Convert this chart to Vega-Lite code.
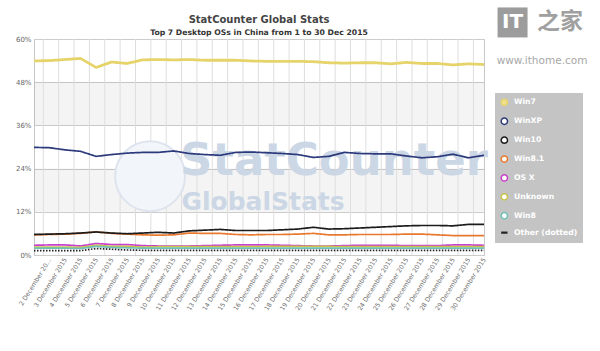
{
  "$schema": "https://vega.github.io/schema/vega-lite/v6.json",
  "width": 450,
  "height": 216,
  "autosize": {"type": "none"},
  "padding": {"left": 34, "top": 39, "right": 116, "bottom": 96},
  "background": "white",
  "config": {
    "font": "DejaVu Sans",
    "view": {"stroke": "#c8c8c8"}
  },
  "title": {
    "text": "StatCounter Global Stats",
    "subtitle": "Top 7 Desktop OSs in China from 1 to 30 Dec 2015",
    "anchor": "middle",
    "frame": "group",
    "font": "DejaVu Sans",
    "fontSize": 10,
    "fontWeight": "bold",
    "color": "#444444",
    "subtitleFont": "DejaVu Sans",
    "subtitleFontSize": 7.7,
    "subtitleFontWeight": "bold",
    "subtitleColor": "#333333",
    "offset": 3,
    "dy": 32,
    "subtitlePadding": 4
  },
  "layer": [
    {
      "data": {"values": [{"v": 36, "v2": 48}, {"v": 12, "v2": 24}]},
      "mark": {"type": "rect", "fill": "#000000", "opacity": 0.045},
      "encoding": {
        "y": {"field": "v", "type": "quantitative", "scale": {"domain": [0, 60], "nice": false}, "axis": null},
        "y2": {"field": "v2"}
      }
    },
    {
      "data": {"values": [{"d": 2}, {"d": 3}, {"d": 4}, {"d": 5}, {"d": 6}, {"d": 7}, {"d": 8}, {"d": 9}, {"d": 10}, {"d": 11}, {"d": 12}, {"d": 13}, {"d": 14}, {"d": 15}, {"d": 16}, {"d": 17}, {"d": 18}, {"d": 19}, {"d": 20}, {"d": 21}, {"d": 22}, {"d": 23}, {"d": 24}, {"d": 25}, {"d": 26}, {"d": 27}, {"d": 28}, {"d": 29}, {"d": 30}]},
      "mark": {"type": "rule", "color": "#dedede", "strokeWidth": 1},
      "encoding": {
        "x": {"field": "d", "type": "quantitative", "scale": {"domain": [1.393, 30.69], "nice": false, "zero": false}, "axis": null}
      }
    },
    {
      "data": {"values": [{}]},
      "mark": {"type": "point", "shape": "circle", "size": 4900, "filled": true, "fill": "#f2f5f9", "stroke": "#dde4ee", "strokeWidth": 2, "opacity": 1},
      "encoding": {
        "x": {"datum": 8.48, "type": "quantitative", "scale": {"domain": [1, 30], "nice": false, "zero": false}, "axis": null},
        "y": {"datum": 21.9, "type": "quantitative", "scale": {"domain": [0, 60], "nice": false}, "axis": null}
      }
    },
    {
      "data": {"values": [{}]},
      "mark": {"type": "text", "text": "StatCounter", "font": "DejaVu Sans", "fontWeight": "bold", "fontSize": 45, "fill": "#ccd7e6", "align": "left", "baseline": "alphabetic"},
      "encoding": {
        "x": {"datum": 10.41, "type": "quantitative", "scale": {"domain": [1, 30], "nice": false, "zero": false}, "axis": null},
        "y": {"datum": 22.2, "type": "quantitative", "scale": {"domain": [0, 60], "nice": false}, "axis": null}
      }
    },
    {
      "data": {"values": [{}]},
      "mark": {"type": "text", "text": "GlobalStats", "font": "DejaVu Sans", "fontWeight": "bold", "fontSize": 25, "fill": "#ccd7e6", "align": "left", "baseline": "alphabetic"},
      "encoding": {
        "x": {"datum": 10.5, "type": "quantitative", "scale": {"domain": [1, 30], "nice": false, "zero": false}, "axis": null},
        "y": {"datum": 12.5, "type": "quantitative", "scale": {"domain": [0, 60], "nice": false}, "axis": null}
      }
    },
    {
      "data": {"values": [
        {"d":1,"os":"Win7","v":53.9},{"d":2,"os":"Win7","v":54.0},{"d":3,"os":"Win7","v":54.3},{"d":4,"os":"Win7","v":54.6},{"d":5,"os":"Win7","v":52.1},{"d":6,"os":"Win7","v":53.6},{"d":7,"os":"Win7","v":53.2},{"d":8,"os":"Win7","v":54.2},{"d":9,"os":"Win7","v":54.3},{"d":10,"os":"Win7","v":54.2},
        {"d":11,"os":"Win7","v":54.3},{"d":12,"os":"Win7","v":54.1},{"d":13,"os":"Win7","v":54.1},{"d":14,"os":"Win7","v":54.1},{"d":15,"os":"Win7","v":53.9},{"d":16,"os":"Win7","v":53.8},{"d":17,"os":"Win7","v":53.8},{"d":18,"os":"Win7","v":53.8},{"d":19,"os":"Win7","v":53.7},{"d":20,"os":"Win7","v":53.4},
        {"d":21,"os":"Win7","v":53.3},{"d":22,"os":"Win7","v":53.4},{"d":23,"os":"Win7","v":53.4},{"d":24,"os":"Win7","v":53.1},{"d":25,"os":"Win7","v":53.5},{"d":26,"os":"Win7","v":53.2},{"d":27,"os":"Win7","v":53.2},{"d":28,"os":"Win7","v":52.8},{"d":29,"os":"Win7","v":53.1},{"d":30,"os":"Win7","v":52.9},
        {"d":1,"os":"WinXP","v":29.9},{"d":2,"os":"WinXP","v":29.8},{"d":3,"os":"WinXP","v":29.2},{"d":4,"os":"WinXP","v":28.8},{"d":5,"os":"WinXP","v":27.4},{"d":6,"os":"WinXP","v":27.9},{"d":7,"os":"WinXP","v":28.3},{"d":8,"os":"WinXP","v":28.5},{"d":9,"os":"WinXP","v":28.5},{"d":10,"os":"WinXP","v":28.9},
        {"d":11,"os":"WinXP","v":28.2},{"d":12,"os":"WinXP","v":27.9},{"d":13,"os":"WinXP","v":27.7},{"d":14,"os":"WinXP","v":28.5},{"d":15,"os":"WinXP","v":28.6},{"d":16,"os":"WinXP","v":28.4},{"d":17,"os":"WinXP","v":28.2},{"d":18,"os":"WinXP","v":27.9},{"d":19,"os":"WinXP","v":27.1},{"d":20,"os":"WinXP","v":27.4},
        {"d":21,"os":"WinXP","v":28.5},{"d":22,"os":"WinXP","v":28.2},{"d":23,"os":"WinXP","v":28.1},{"d":24,"os":"WinXP","v":28.1},{"d":25,"os":"WinXP","v":27.5},{"d":26,"os":"WinXP","v":27.0},{"d":27,"os":"WinXP","v":27.3},{"d":28,"os":"WinXP","v":28.0},{"d":29,"os":"WinXP","v":27.0},{"d":30,"os":"WinXP","v":27.7},
        {"d":1,"os":"Win8.1","v":5.6},{"d":2,"os":"Win8.1","v":5.7},{"d":3,"os":"Win8.1","v":5.8},{"d":4,"os":"Win8.1","v":6.0},{"d":5,"os":"Win8.1","v":6.4},{"d":6,"os":"Win8.1","v":6.0},{"d":7,"os":"Win8.1","v":5.8},{"d":8,"os":"Win8.1","v":5.6},{"d":9,"os":"Win8.1","v":5.5},{"d":10,"os":"Win8.1","v":5.6},
        {"d":11,"os":"Win8.1","v":6.1},{"d":12,"os":"Win8.1","v":6.0},{"d":13,"os":"Win8.1","v":6.0},{"d":14,"os":"Win8.1","v":5.7},{"d":15,"os":"Win8.1","v":5.6},{"d":16,"os":"Win8.1","v":5.7},{"d":17,"os":"Win8.1","v":5.7},{"d":18,"os":"Win8.1","v":5.8},{"d":19,"os":"Win8.1","v":6.0},{"d":20,"os":"Win8.1","v":5.6},
        {"d":21,"os":"Win8.1","v":5.6},{"d":22,"os":"Win8.1","v":5.7},{"d":23,"os":"Win8.1","v":5.7},{"d":24,"os":"Win8.1","v":5.7},{"d":25,"os":"Win8.1","v":5.8},{"d":26,"os":"Win8.1","v":5.8},{"d":27,"os":"Win8.1","v":5.6},{"d":28,"os":"Win8.1","v":5.4},{"d":29,"os":"Win8.1","v":5.4},{"d":30,"os":"Win8.1","v":5.4},
        {"d":1,"os":"Win10","v":5.7},{"d":2,"os":"Win10","v":5.8},{"d":3,"os":"Win10","v":5.9},{"d":4,"os":"Win10","v":6.1},{"d":5,"os":"Win10","v":6.4},{"d":6,"os":"Win10","v":6.1},{"d":7,"os":"Win10","v":5.9},{"d":8,"os":"Win10","v":6.1},{"d":9,"os":"Win10","v":6.3},{"d":10,"os":"Win10","v":6.1},
        {"d":11,"os":"Win10","v":6.7},{"d":12,"os":"Win10","v":6.9},{"d":13,"os":"Win10","v":7.1},{"d":14,"os":"Win10","v":6.8},{"d":15,"os":"Win10","v":6.8},{"d":16,"os":"Win10","v":6.8},{"d":17,"os":"Win10","v":7.0},{"d":18,"os":"Win10","v":7.2},{"d":19,"os":"Win10","v":7.7},{"d":20,"os":"Win10","v":7.2},
        {"d":21,"os":"Win10","v":7.3},{"d":22,"os":"Win10","v":7.5},{"d":23,"os":"Win10","v":7.7},{"d":24,"os":"Win10","v":7.9},{"d":25,"os":"Win10","v":8.1},{"d":26,"os":"Win10","v":8.2},{"d":27,"os":"Win10","v":8.2},{"d":28,"os":"Win10","v":8.1},{"d":29,"os":"Win10","v":8.5},{"d":30,"os":"Win10","v":8.5},
        {"d":1,"os":"OS X","v":2.7},{"d":2,"os":"OS X","v":2.8},{"d":3,"os":"OS X","v":2.8},{"d":4,"os":"OS X","v":2.5},{"d":5,"os":"OS X","v":3.2},{"d":6,"os":"OS X","v":2.9},{"d":7,"os":"OS X","v":2.9},{"d":8,"os":"OS X","v":2.6},{"d":9,"os":"OS X","v":2.5},{"d":10,"os":"OS X","v":2.5},
        {"d":11,"os":"OS X","v":2.5},{"d":12,"os":"OS X","v":2.6},{"d":13,"os":"OS X","v":2.7},{"d":14,"os":"OS X","v":2.8},{"d":15,"os":"OS X","v":2.8},{"d":16,"os":"OS X","v":2.8},{"d":17,"os":"OS X","v":2.7},{"d":18,"os":"OS X","v":2.6},{"d":19,"os":"OS X","v":2.5},{"d":20,"os":"OS X","v":2.5},
        {"d":21,"os":"OS X","v":2.6},{"d":22,"os":"OS X","v":2.7},{"d":23,"os":"OS X","v":2.7},{"d":24,"os":"OS X","v":2.7},{"d":25,"os":"OS X","v":2.6},{"d":26,"os":"OS X","v":2.6},{"d":27,"os":"OS X","v":2.6},{"d":28,"os":"OS X","v":2.8},{"d":29,"os":"OS X","v":2.8},{"d":30,"os":"OS X","v":2.7},
        {"d":1,"os":"Unknown","v":2.2},{"d":2,"os":"Unknown","v":2.2},{"d":3,"os":"Unknown","v":2.2},{"d":4,"os":"Unknown","v":2.1},{"d":5,"os":"Unknown","v":2.7},{"d":6,"os":"Unknown","v":2.4},{"d":7,"os":"Unknown","v":2.4},{"d":8,"os":"Unknown","v":2.2},{"d":9,"os":"Unknown","v":2.3},{"d":10,"os":"Unknown","v":2.3},
        {"d":11,"os":"Unknown","v":2.3},{"d":12,"os":"Unknown","v":2.3},{"d":13,"os":"Unknown","v":2.3},{"d":14,"os":"Unknown","v":2.3},{"d":15,"os":"Unknown","v":2.3},{"d":16,"os":"Unknown","v":2.4},{"d":17,"os":"Unknown","v":2.4},{"d":18,"os":"Unknown","v":2.4},{"d":19,"os":"Unknown","v":2.4},{"d":20,"os":"Unknown","v":2.4},
        {"d":21,"os":"Unknown","v":2.3},{"d":22,"os":"Unknown","v":2.3},{"d":23,"os":"Unknown","v":2.3},{"d":24,"os":"Unknown","v":2.3},{"d":25,"os":"Unknown","v":2.3},{"d":26,"os":"Unknown","v":2.3},{"d":27,"os":"Unknown","v":2.3},{"d":28,"os":"Unknown","v":2.3},{"d":29,"os":"Unknown","v":2.3},{"d":30,"os":"Unknown","v":2.3},
        {"d":1,"os":"Win8","v":1.9},{"d":2,"os":"Win8","v":1.9},{"d":3,"os":"Win8","v":1.9},{"d":4,"os":"Win8","v":1.8},{"d":5,"os":"Win8","v":2.4},{"d":6,"os":"Win8","v":2.1},{"d":7,"os":"Win8","v":2.0},{"d":8,"os":"Win8","v":1.9},{"d":9,"os":"Win8","v":1.9},{"d":10,"os":"Win8","v":1.9},
        {"d":11,"os":"Win8","v":1.9},{"d":12,"os":"Win8","v":1.9},{"d":13,"os":"Win8","v":1.9},{"d":14,"os":"Win8","v":1.9},{"d":15,"os":"Win8","v":1.9},{"d":16,"os":"Win8","v":1.9},{"d":17,"os":"Win8","v":1.9},{"d":18,"os":"Win8","v":1.9},{"d":19,"os":"Win8","v":1.9},{"d":20,"os":"Win8","v":1.9},
        {"d":21,"os":"Win8","v":1.9},{"d":22,"os":"Win8","v":1.9},{"d":23,"os":"Win8","v":1.9},{"d":24,"os":"Win8","v":1.9},{"d":25,"os":"Win8","v":1.9},{"d":26,"os":"Win8","v":1.9},{"d":27,"os":"Win8","v":1.9},{"d":28,"os":"Win8","v":1.9},{"d":29,"os":"Win8","v":1.9},{"d":30,"os":"Win8","v":1.9},
        {"d":1,"os":"Other (dotted)","v":1.2},{"d":2,"os":"Other (dotted)","v":1.2},{"d":3,"os":"Other (dotted)","v":1.2},{"d":4,"os":"Other (dotted)","v":1.2},{"d":5,"os":"Other (dotted)","v":1.8},{"d":6,"os":"Other (dotted)","v":1.6},{"d":7,"os":"Other (dotted)","v":1.4},{"d":8,"os":"Other (dotted)","v":1.3},{"d":9,"os":"Other (dotted)","v":1.3},{"d":10,"os":"Other (dotted)","v":1.3},
        {"d":11,"os":"Other (dotted)","v":1.3},{"d":12,"os":"Other (dotted)","v":1.3},{"d":13,"os":"Other (dotted)","v":1.3},{"d":14,"os":"Other (dotted)","v":1.3},{"d":15,"os":"Other (dotted)","v":1.3},{"d":16,"os":"Other (dotted)","v":1.3},{"d":17,"os":"Other (dotted)","v":1.3},{"d":18,"os":"Other (dotted)","v":1.3},{"d":19,"os":"Other (dotted)","v":1.3},{"d":20,"os":"Other (dotted)","v":1.3},
        {"d":21,"os":"Other (dotted)","v":1.3},{"d":22,"os":"Other (dotted)","v":1.3},{"d":23,"os":"Other (dotted)","v":1.3},{"d":24,"os":"Other (dotted)","v":1.3},{"d":25,"os":"Other (dotted)","v":1.3},{"d":26,"os":"Other (dotted)","v":1.3},{"d":27,"os":"Other (dotted)","v":1.3},{"d":28,"os":"Other (dotted)","v":1.3},{"d":29,"os":"Other (dotted)","v":1.3},{"d":30,"os":"Other (dotted)","v":1.3}
      ]},
      "mark": {"type": "line", "strokeJoin": "round", "strokeCap": "butt"},
      "encoding": {
        "x": {"field": "d", "type": "quantitative", "scale": {"domain": [1, 30], "nice": false, "zero": false},
          "axis": {"values": [2,3,4,5,6,7,8,9,10,11,12,13,14,15,16,17,18,19,20,21,22,23,24,25,26,27,28,29,30], "labelExpr": "datum.value == 2 ? '2 December 20…' : datum.value + ' December 2015'", "labelAngle": -58, "labelFontSize": 6.3, "labelColor": "#707070", "labelFont": "DejaVu Sans", "labelPadding": 3, "ticks": false, "domain": false, "grid": false, "title": null, "labelOverlap": false, "labelFlush": false, "labelBound": false}},
        "y": {"field": "v", "type": "quantitative", "scale": {"domain": [0, 60], "nice": false},
          "axis": {"values": [0, 12, 24, 36, 48, 60], "labelExpr": "datum.value + '%'", "title": null, "grid": true, "gridColor": "#cccccc", "ticks": false, "domain": false, "labelFontSize": 7, "labelColor": "#666666", "labelPadding": 3, "labelFont": "DejaVu Sans"}},
        "color": {"field": "os", "type": "nominal",
          "scale": {"domain": ["Win7", "WinXP", "Win10", "Win8.1", "OS X", "Unknown", "Win8", "Other (dotted)"],
            "range": ["#e6d46b", "#2c3a7c", "#1c1c1c", "#e8782e", "#c83fcc", "#c9c34c", "#6fc0b8", "#222222"]},
          "legend": {"orient": "none", "legendX": 461, "legendY": 54, "title": null, "fillColor": "#c4c4c4", "padding": 5.5, "labelColor": "#ffffff", "labelFontWeight": "bold", "labelFont": "DejaVu Sans", "labelFontSize": 7.7, "rowPadding": 4.9, "symbolSize": 40, "symbolStrokeWidth": 1.5, "labelOffset": 5.8, "labelExpr": "datum.label + '   '",
            "encode": {"symbols": {"update": {
              "shape": {"signal": "datum.value === 'Other (dotted)' ? 'stroke' : 'circle'"},
              "fill": {"signal": "datum.value === 'Win7' ? '#efe08e' : (datum.value === 'Other (dotted)' ? 'transparent' : '#ffffff')"},
              "strokeWidth": {"signal": "datum.value === 'Other (dotted)' ? 2.2 : 1.5"}
            }}}}},
        "strokeDash": {"condition": {"test": "datum.os === 'Other (dotted)'", "value": [1.5, 1.5]}, "value": [1, 0]},
        "strokeWidth": {"condition": {"test": "datum.os === 'Win7'", "value": 2.8}, "value": 1.7}
      }
    },
    {
      "data": {"values": [{}]},
      "mark": {"type": "point", "shape": "square", "size": 900, "filled": true, "fill": "#9c9c9c", "opacity": 1},
      "encoding": {
        "x": {"datum": 31.84, "type": "quantitative", "scale": {"domain": [1, 30], "nice": false, "zero": false}, "axis": null},
        "y": {"datum": 64.6, "type": "quantitative", "scale": {"domain": [0, 60], "nice": false}, "axis": null}
      }
    },
    {
      "data": {"values": [{}]},
      "mark": {"type": "text", "text": "IT", "font": "DejaVu Sans", "fontWeight": "bold", "fontSize": 20, "fill": "#ffffff", "align": "center", "baseline": "middle"},
      "encoding": {
        "x": {"datum": 31.84, "type": "quantitative", "scale": {"domain": [1, 30], "nice": false, "zero": false}, "axis": null},
        "y": {"datum": 64.6, "type": "quantitative", "scale": {"domain": [0, 60], "nice": false}, "axis": null}
      }
    },
    {
      "data": {"values": [{}]},
      "mark": {"type": "text", "text": "之家", "font": "Noto Sans CJK SC", "fontWeight": "bold", "fontSize": 23, "fill": "#a0a0a0", "align": "center", "baseline": "middle"},
      "encoding": {
        "x": {"datum": 34.9, "type": "quantitative", "scale": {"domain": [1, 30], "nice": false, "zero": false}, "axis": null},
        "y": {"datum": 64.6, "type": "quantitative", "scale": {"domain": [0, 60], "nice": false}, "axis": null}
      }
    },
    {
      "data": {"values": [{}]},
      "mark": {"type": "text", "text": "www.ithome.com", "font": "DejaVu Sans", "fontSize": 10.5, "fill": "#a8a8a8", "align": "center", "baseline": "middle"},
      "encoding": {
        "x": {"datum": 33.74, "type": "quantitative", "scale": {"domain": [1, 30], "nice": false, "zero": false}, "axis": null},
        "y": {"datum": 53.9, "type": "quantitative", "scale": {"domain": [0, 60], "nice": false}, "axis": null}
      }
    }
  ],
  "resolve": {"scale": {"x": "independent", "y": "independent"}}
}
